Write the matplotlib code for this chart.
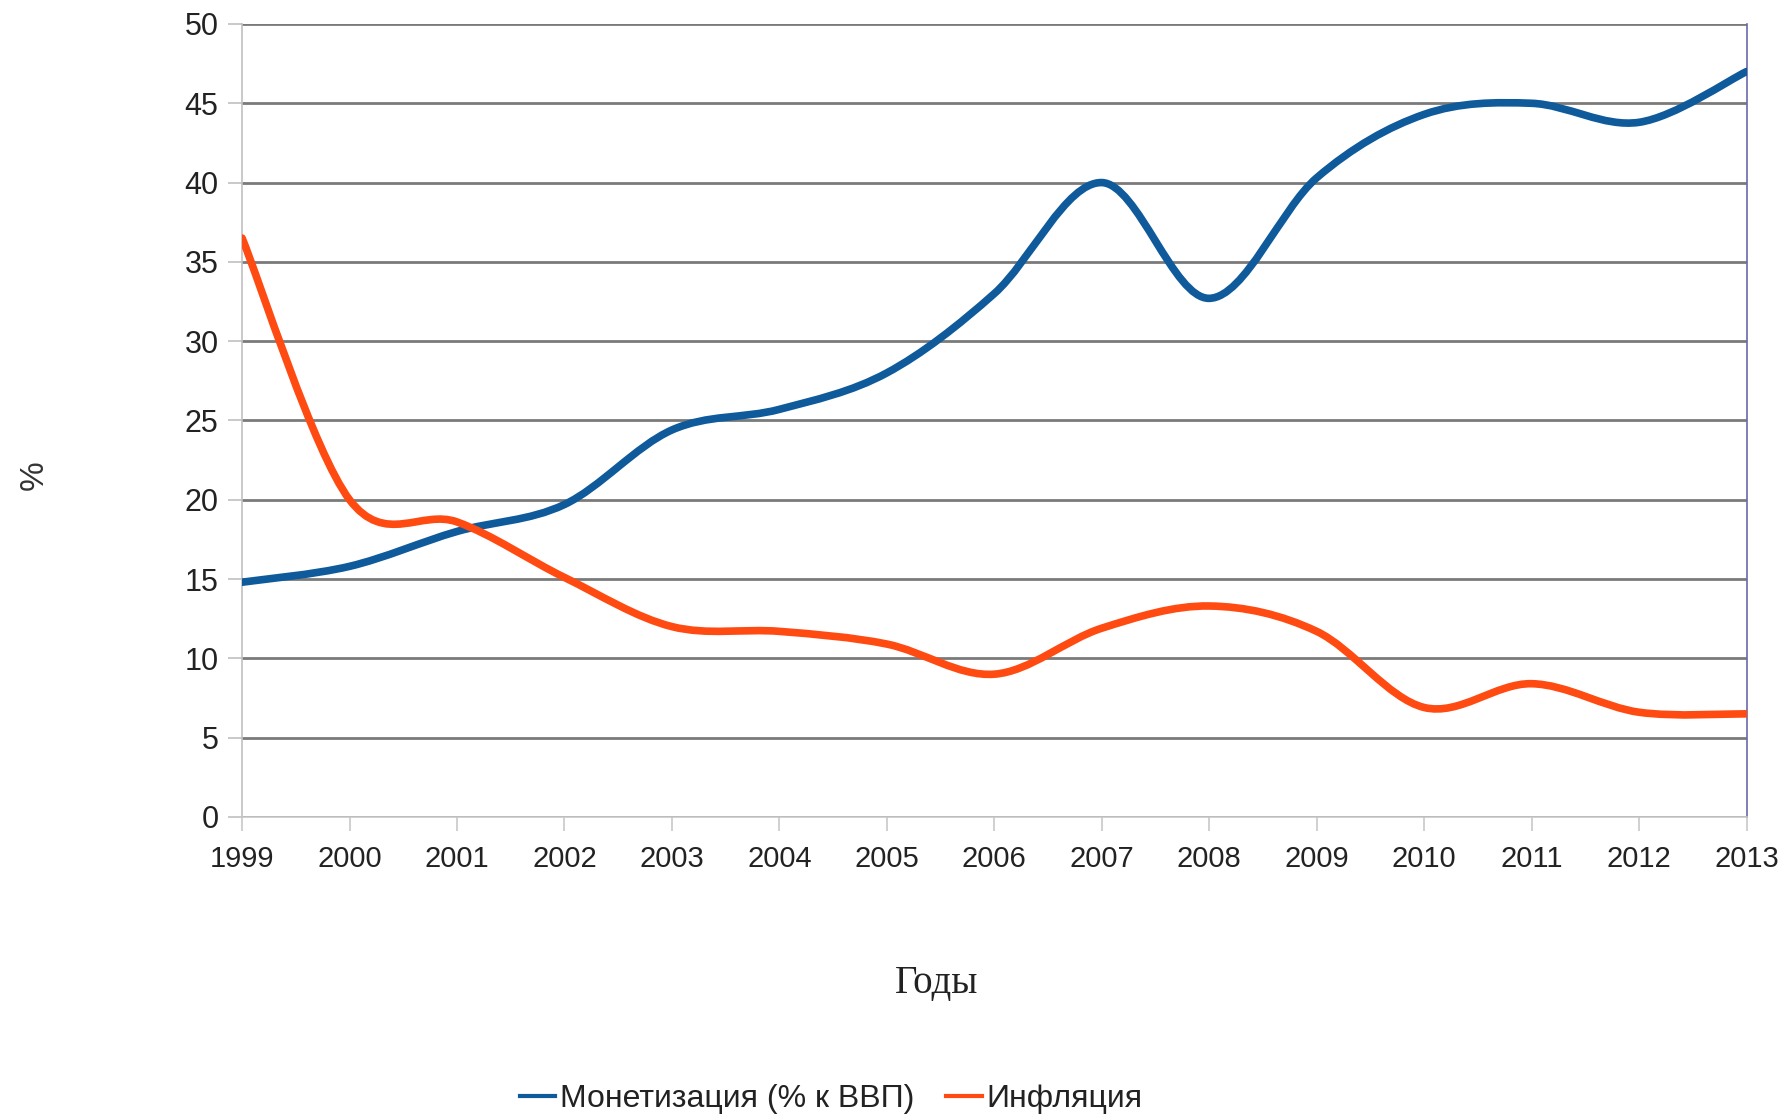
import numpy as np
import matplotlib
matplotlib.use('Agg')
import matplotlib.pyplot as plt
from matplotlib.path import Path
from matplotlib.patches import PathPatch
from matplotlib.lines import Line2D

# ---- данные ----
years = [1999, 2000, 2001, 2002, 2003, 2004, 2005, 2006,
         2007, 2008, 2009, 2010, 2011, 2012, 2013]
monetization = [14.8, 15.8, 18.0, 19.7, 24.4, 25.7, 28.0, 33.0,
                40.0, 32.7, 40.3, 44.3, 45.0, 43.8, 47.0]
inflation = [36.5, 20.0, 18.6, 15.1, 12.0, 11.7, 10.9, 9.0,
             11.9, 13.3, 11.7, 6.9, 8.4, 6.6, 6.5]

blue = '#0f5a9a'
orange = '#ff4a12'

plt.rcParams['font.family'] = ['Liberation Sans', 'DejaVu Sans']


def smooth_path(x, y):
    # Catmull-Rom -> кубические кривые Безье (сглаженная линия как в LibreOffice)
    x = np.asarray(x, float)
    y = np.asarray(y, float)
    verts = [(x[0], y[0])]
    codes = [Path.MOVETO]
    n = len(x)
    for i in range(n - 1):
        x0, y0 = (x[i - 1], y[i - 1]) if i > 0 else (x[i], y[i])
        x3, y3 = (x[i + 2], y[i + 2]) if i + 2 < n else (x[i + 1], y[i + 1])
        c1 = (x[i] + (x[i + 1] - x0) / 6, y[i] + (y[i + 1] - y0) / 6)
        c2 = (x[i + 1] - (x3 - x[i]) / 6, y[i + 1] - (y3 - y[i]) / 6)
        verts += [c1, c2, (x[i + 1], y[i + 1])]
        codes += [Path.CURVE4] * 3
    return Path(verts, codes)


fig = plt.figure(figsize=(17.84, 11.16), dpi=100)
ax = fig.add_axes([0.1357, 0.268, 0.8433, 0.7105])

ax.set_xlim(1999, 2013)
ax.set_ylim(0, 50)
ax.set_yticks(range(0, 51, 5))
ax.set_xticks(years)

ax.yaxis.grid(True, color='#7a7a7a', linewidth=2)
ax.set_axisbelow(True)

for series, col in [(monetization, blue), (inflation, orange)]:
    ax.add_patch(PathPatch(smooth_path(years, series), facecolor='none',
                           edgecolor=col, linewidth=5.5, capstyle='round',
                           joinstyle='round', zorder=3))

ax.spines['top'].set_visible(False)
ax.spines['left'].set_color('#c0c0c0')
ax.spines['bottom'].set_color('#c8c8c8')
ax.spines['right'].set_color('#6a6aaa')
ax.spines['left'].set_linewidth(1.2)
ax.spines['bottom'].set_linewidth(1.2)
ax.spines['right'].set_linewidth(1.2)

ax.tick_params(axis='y', length=10, width=1.2, color='#c0c0c0',
               labelsize=22, labelcolor='#222222', pad=7)
ax.tick_params(axis='x', length=10, width=1.2, color='#c8c8c8',
               labelsize=21, labelcolor='#222222', pad=10)

fig.text(0.019, 0.574, '%', rotation=90, fontsize=24, color='#333333',
         ha='center', va='center')
fig.text(0.525, 0.119, 'Годы', fontsize=28, color='#222222',
         family='Liberation Serif', ha='center', va='center')

handles = [Line2D([], [], color=blue, linewidth=3),
           Line2D([], [], color=orange, linewidth=3)]
fig.legend(handles, ['Монетизация (% к ВВП)', 'Инфляция'],
           loc='center', bbox_to_anchor=(0.466, 0.015), ncol=2, frameon=False,
           fontsize=23, handlelength=1.1, handletextpad=0.15,
           columnspacing=1.0, labelcolor='#222222')

fig.savefig('out.png', dpi=100)
